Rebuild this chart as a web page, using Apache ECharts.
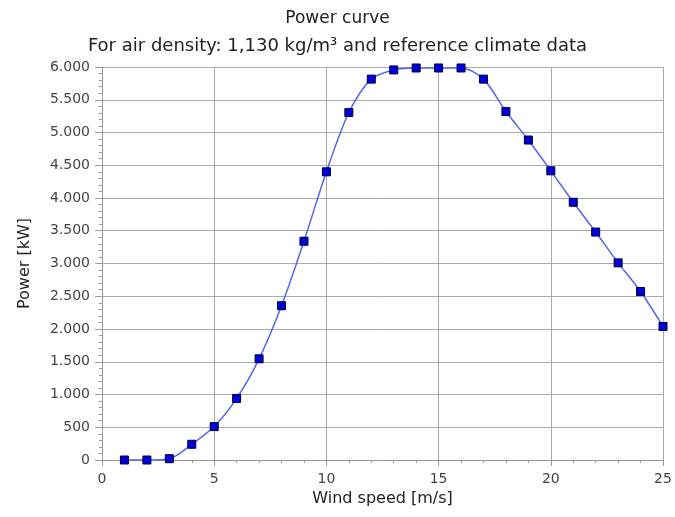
<!DOCTYPE html>
<html>
<head>
<meta charset="utf-8">
<script src="https://cdn.jsdelivr.net/npm/echarts@6/dist/echarts.min.js"></script>
<style>html,body{margin:0;padding:0;background:#fff}#c{width:675px;height:517px}</style>
</head>
<body>
<div id="c"></div>
<script>
var windSpeed = [1,2,3,4,5,6,7,8,9,10,11,12,13,14,15,16,17,18,19,20,21,22,23,24,25];
var power = [0,0,20,240,510,940,1545,2355,3340,4400,5305,5815,5955,5985,5985,5985,5815,5320,4885,4415,3935,3480,3010,2572,2038];
var titleText = 'Power curve';
var subtitleText = 'For air density: 1,130 kg/m\u00b3 and reference climate data';
var xName = 'Wind speed [m/s]';
var yName = 'Power [kW]';

var pts = windSpeed.map(function(v,i){return [v, power[i]];});
var font = 'DejaVu Sans, Verdana, sans-serif';
function fmt(v){ return String(v).replace(/\B(?=(\d{3})+(?!\d))/g, '.'); }

var chart = echarts.init(document.getElementById('c'));
chart.setOption({
  animation: false,
  backgroundColor: '#fff',
  title: [
    {text: titleText, left: 'center', top: 5, textStyle:{fontFamily:font, fontSize:17, fontWeight:'normal', color:'#222'}},
    {text: subtitleText, left: 'center', top: 32, textStyle:{fontFamily:font, fontSize:18, fontWeight:'normal', color:'#222'}}
  ],
  grid: {left: 102, right: 12, top: 67, bottom: 57, containLabel: false},
  xAxis: {
    type: 'value', min: 0, max: 25, interval: 5,
    name: xName, nameLocation: 'middle', nameGap: 28,
    nameTextStyle: {fontFamily: font, fontSize: 16, color: '#222'},
    axisLine: {show: true, lineStyle: {color: '#999', width: 1}},
    axisTick: {show: true, length: 6, lineStyle: {color: '#999'}},
    minorTick: {show: true, splitNumber: 5, length: 3, lineStyle: {color: '#999'}},
    splitLine: {show: true, lineStyle: {color: '#aaa', width: 1}},
    axisLabel: {fontFamily: font, fontSize: 14, color: '#444', margin: 12}
  },
  yAxis: {
    type: 'value', min: 0, max: 6000, interval: 500,
    name: yName, nameLocation: 'middle', nameGap: 69, nameRotate: 90,
    nameTextStyle: {fontFamily: font, fontSize: 16, color: '#222'},
    axisLine: {show: true, lineStyle: {color: '#999', width: 1}},
    axisTick: {show: true, length: 7, lineStyle: {color: '#999'}},
    minorTick: {show: true, splitNumber: 5, length: 3, lineStyle: {color: '#999'}},
    splitLine: {show: true, lineStyle: {color: '#aaa', width: 1}},
    axisLabel: {fontFamily: font, fontSize: 14, color: '#444', margin: 12, formatter: fmt}
  },
  series: [{
    type: 'line',
    data: pts,
    smooth: 0.3,
    symbol: 'rect',
    symbolSize: 8,
    lineStyle: {color: '#5566e6', width: 1.5},
    itemStyle: {color: '#0000dd', borderColor: '#000033', borderWidth: 1},
    clip: false
  }]
});
</script>
</body>
</html>
